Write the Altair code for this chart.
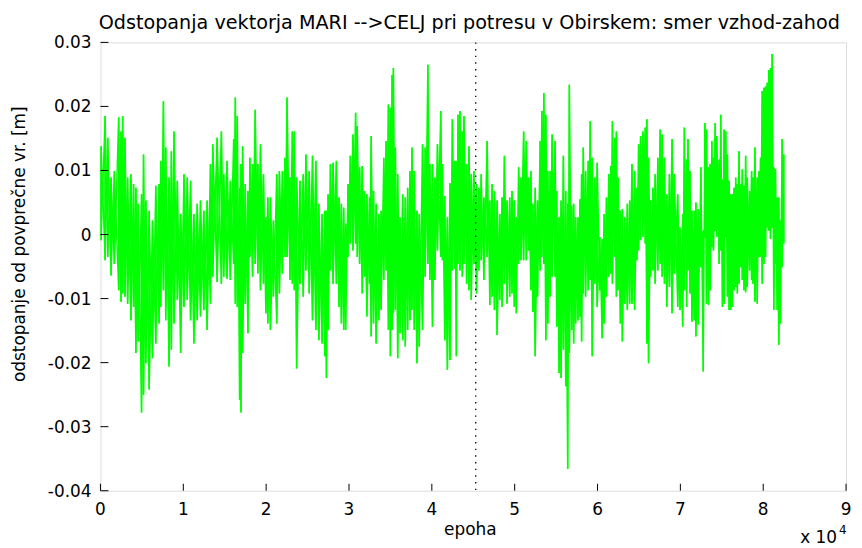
import altair as alt
import pandas as pd

# Epoch sample positions and the upper / lower extent of
# the green trace at each of them, in millimetres.
epoch = [
    80, 560, 880, 1280, 1680, 2200, 2480, 2680, 2960, 3280, 3680, 4000, 4280, 4560,
    4960, 5200, 5480, 5880, 6280, 6680, 7080, 7280, 7600, 7880, 8280, 8560, 8880,
    9280, 9680, 10080, 10480, 10880, 11280, 11680, 12080, 12480, 12880, 13280,
    13560, 14080, 14600, 14880, 15280, 15680, 16080, 16280, 16520, 16800, 16960,
    17160, 17480, 17800, 18040, 18360, 18680, 19000, 19320, 19680, 19960, 20200,
    20520, 20880, 21280, 21600, 21960, 22280, 22520, 22880, 23160, 23400, 23680,
    24080, 24480, 24800, 25200, 25600, 26000, 26360, 26760, 27080, 27280,
    27480, 27760, 28080, 28480, 28800, 29080, 29360, 29600, 29880, 30160, 30480,
    30800, 31000, 31280, 31600, 31880, 32160, 32480, 32680, 32960, 33280, 33600,
    33880, 34200, 34480, 34760, 35000, 35200, 35360, 35600, 35880, 36160, 36480,
    36800, 37080, 37360, 37600, 37880, 38200, 38480, 38880, 39200, 39520, 39760,
    40080, 40360, 40680, 41080,
    41280, 41560, 41880, 42200, 42480, 42760, 42960, 43160, 43400, 43680, 43880,
    44200, 44480, 44760, 45080, 45400, 45680, 45960, 46280, 46680, 47000, 47280,
    47560, 47880, 48200, 48480, 48760, 49080, 49400, 49680, 49960, 50200, 50480,
    50760, 51080, 51400, 51680, 51960, 52200, 52480, 52760, 53080, 53280, 53520,
    53760, 54000, 54280, 54520, 54880,
    55080, 55360, 55600, 55880, 56160, 56400, 56600, 56880, 57120, 57360, 57640,
    57880, 58080, 58280, 58560, 58880, 59120, 59360, 59680, 59960, 60280, 60560,
    60800, 61080, 61360, 61600, 61800, 62080, 62280, 62480, 62760, 63000, 63280,
    63600, 63880, 64160, 64480, 64760, 64960, 65200, 65480, 65760, 65960, 66160,
    66400, 66680, 66960, 67280, 67560, 67800, 68080, 68360, 68680,
    69000, 69280, 69680, 69960, 70280, 70480, 70760, 70920, 71160, 71400, 71680,
    71880, 72160, 72480, 72760, 72960, 73160, 73400, 73600, 73800, 74000, 74200,
    74400, 74680, 74880, 75080, 75280, 75480, 75680, 75880, 76080, 76280, 76480,
    76680, 76880, 77080, 77280, 77480, 77680, 77880, 78080, 78360, 78600, 78760,
    79000, 79280, 79480, 79680, 79880, 80080, 80280, 80480, 80680, 80880, 81080,
    81280, 81480, 81680, 81880, 82080, 82280, 82480,
]

upper_mm = [
    13.8, 18.5, 15.1, 8.9, 9.9, 18.3, 16.1, 18.5, 15.1, 8.9, 9.4, 7.9, 7.3, 4.8,
    6.3, 12.5, 5.3, 3.7, 2.2, 7.6, 7.9, 11.5, 20.8, 13.6, 8.9, 13.0, 16.1,
    8.4, 3.2, 9.4, 8.9, 8.4, 3.2, 4.8, 5.3, 3.7, 5.3, 11.0,
    14.1, 15.1, 16.1, 9.4, 11.5, 8.4, 14.9, 21.4, 18.5, 7.3, 11.0,
    13.8, 7.9, 6.8, 12.0, 11.0, 19.5, 11.0, 14.1, 9.4, 2.7, 5.8,
    5.8, 2.2, 9.4, 9.9, 9.9, 12.0, 21.4, 8.9, 16.1, 16.1, 8.9,
    8.4, 9.4, 12.5, 9.9, 12.3, 11.5, 4.8, 3.2, 3.7, 3.7,
    6.3, 11.0, 11.2, 11.5, 5.8, 4.8, 4.2, 1.7, 7.9, 12.3, 15.6,
    19.0, 16.9, 10.5, 10.7, 6.8, 6.3, 5.8, 15.4, 6.8, 4.8, 3.2,
    3.7, 12.0, 14.6, 20.3, 19.8, 24.9, 26.0, 13.6, 9.4, 2.7, 6.3,
    5.8, 7.3, 9.9, 13.6, 9.9, 3.7, 3.2, 14.1, 13.6, 26.5, 11.0,
    11.0, 8.9, 14.1, 19.3,
    11.0, 6.0, 2.7, 8.0, 18.0, 11.5, 11.5, 18.7, 19.3, 16.1, 18.5,
    11.0, 13.8, 9.4, 9.9, 7.9, 7.3, 9.4, 5.8, 14.6, 5.3, 7.9,
    6.8, 5.3, 3.2, 5.8, 12.3, 5.3, 5.8, 6.8, 5.3, 2.7, 10.5,
    8.9, 16.1, 14.6, 8.9, 9.9, 4.8, 7.3, 5.3, 14.6, 19.3, 22.1,
    18.7, 9.9, 9.9, 15.6, 14.6,
    6.8, 2.7, 5.3, 12.3, 6.8, 4.8, 23.4, 4.5, 4.8, 2.7, 2.7,
    5.5, 9.4, 13.6, 9.9, 11.5, 17.7, 12.0, 8.9, 11.2, -0.4, -0.7,
    3.2, 5.8, 9.4, 10.7, 17.7, 15.1, 16.1, 8.9, 3.7, 4.0, 2.7,
    4.8, 5.3, 11.0, 9.9, 7.3, 14.1, 15.4, 16.1, 16.7, 18.0, 12.0,
    5.3, 7.3, 9.4, 12.0, 16.4, 15.6, 12.0, 6.3, 9.4,
    14.9, 9.4, 6.3, 1.1, 3.2, 16.7, 11.7, 14.9, 9.9, 3.7, 3.7,
    5.0, 4.0, 10.5, 0.6, 17.4, 16.4, 10.5, 11.0, 14.6, 12.0, 17.4,
    15.4, 11.7, 18.7, 8.6, 16.4, 16.1, 12.5, 8.4, 6.3, 6.3, 7.3,
    8.9, 7.9, 13.0, 7.9, 10.2, 7.6, 12.3, 8.9, 6.8, 9.9, 8.9,
    13.6, 8.9, 9.9, 12.0, 22.4, 22.9, 23.1, 23.7, 25.7, 26.0, 28.2,
    10.5, 10.2, 5.8, 5.8, 2.2, 14.9, 12.5,
]

lower_mm = [
    -0.9, -4.0, -3.5, -6.4, -4.6, -8.7, -10.5, -9.2, -9.7, -10.8, -13.4, -11.3, -18.5, -16.7,
    -27.8, -25.0, -20.1, -24.2, -19.3, -17.0, -13.9, -11.3, -8.7, -13.4, -20.6, -18.0, -13.9,
    -10.2, -18.5, -11.3, -10.2, -13.4, -17.0, -13.4, -12.8, -11.8, -14.9, -10.8,
    -6.6, -7.4, -7.7, -6.6, -6.9, -7.1, -4.6, -10.8, -11.3, -25.8, -27.8,
    -18.5, -10.8, -15.4, -3.5, -6.6, -4.6, -6.1, -8.7, -7.7, -12.3, -13.9,
    -14.9, -9.7, -13.9, -9.2, -6.1, -3.5, -3.5, -7.1, -7.7, -8.7, -20.9,
    -7.7, -9.7, -5.6, -9.2, -13.4, -14.9, -16.5, -17.0, -19.0, -22.4,
    -14.9, -5.6, -7.7, -7.7, -11.3, -13.9, -14.9, -14.9, -3.5, -1.4, -2.5,
    -1.4, -3.5, -4.6, -9.2, -6.6, -12.8, -7.7, -15.9, -13.9, -17.0, -13.4,
    -11.8, -7.1, -5.6, -14.9, -19.0, -14.9, -12.3, -11.8, -19.3, -15.4, -16.5,
    -17.5, -14.9, -13.4, -11.8, -14.9, -20.1, -17.5, -14.9, -6.6, -4.6, -7.1,
    -14.4, -7.1, -2.5, -3.5,
    -4.0, -16.5, -21.1, -19.6, -5.6, -5.3, -19.0, -4.6, -5.6, -6.6, -4.6,
    -7.7, -8.7, -10.2, -4.6, -9.2, -5.6, -4.0, -7.1, -3.5, -11.0, -9.7,
    -11.8, -15.7, -10.2, -11.3, -7.7, -10.8, -9.7, -9.2, -11.3, -12.3, -4.6,
    -4.0, -4.0, -4.0, -2.5, -8.7, -12.1, -19.0, -9.7, -5.6, -3.5, -4.6,
    -16.5, -13.9, -9.7, -6.6, -6.6,
    -14.4, -21.6, -22.4, -18.0, -23.7, -36.6, -18.5, -14.9, -17.0, -13.9, -13.4,
    -12.8, -16.7, -9.2, -9.7, -8.7, -7.1, -19.0, -7.7, -11.3, -8.7, -16.2,
    -13.9, -9.7, -6.6, -6.1, -7.7, -3.5, -9.7, -8.7, -13.9, -16.7, -10.8,
    -11.8, -10.8, -10.8, -11.8, -4.0, -2.5, -0.9, -0.4, -1.4, -17.0, -20.1,
    -6.6, -5.6, -7.7, -5.6, -4.6, -6.6, -7.7, -11.3, -8.2,
    -12.3, -6.1, -11.3, -11.8, -14.4, -8.7, -11.3, -5.6, -9.2, -13.6, -13.4,
    -15.9, -14.1, -5.1, -21.4, -0.4, -10.8, -11.0, -8.7, -2.0, -2.5, 0.6,
    -0.4, -4.6, -2.5, -11.3, -10.8, -0.4, -9.7, -11.8, -11.8, -11.3, -8.7,
    -8.2, -9.2, -7.7, -5.1, -7.1, -8.7, -9.0, -8.2, -5.6, -7.1, -7.7,
    -10.5, -10.8, -3.5, -3.5, -7.7, -4.6, -3.5, 1.1, 0.6, -0.7, 1.1,
    -11.8, -4.6, -11.8, -17.2, -13.9, -5.1, -1.4,
]

x_tick_values = [0, 10000, 20000, 30000, 40000, 50000, 60000, 70000, 80000, 90000]
y_tick_values = [-0.04, -0.03, -0.02, -0.01, 0, 0.01, 0.02, 0.03]
event_epoch = [45300]

title_text = "Odstopanja vektorja MARI -->CELJ pri potresu v Obirskem: smer vzhod-zahod"
x_title = "epoha"
y_title = "odstopanje od povprečne vr. [m]"

FONT = "DejaVu Sans"
W, H = 750, 451

# Trace: two zig-zags through the upper / lower extent of every sample so the
# dense core of the signal is filled, while single spikes stay thin.
rows = []
k = 0
for e, u, lo in zip(epoch, upper_mm, lower_mm):
    rows.append({"epoha": e, "v": u / 1000.0, "o": k, "s": "a"})
    rows.append({"epoha": e, "v": lo / 1000.0, "o": k + 1, "s": "a"})
    rows.append({"epoha": e, "v": lo / 1000.0, "o": k, "s": "b"})
    rows.append({"epoha": e, "v": u / 1000.0, "o": k + 1, "s": "b"})
    k += 2
trace_df = pd.DataFrame(rows)

x_lab_df = pd.DataFrame({
    "epoha": x_tick_values,
    "lab": [str(v // 10000) for v in x_tick_values],
})
y_lab_df = pd.DataFrame({
    "v": y_tick_values,
    "lab": ["0" if v == 0 else f"{v:.2f}" for v in y_tick_values],
})

x_scale = alt.Scale(domain=[0, 90000], nice=False, zero=False)
y_scale = alt.Scale(domain=[-0.04, 0.03], nice=False, zero=False)

x_axis = alt.Axis(labels=False, ticks=False, grid=False, title=None,
                  domainColor="black", domainWidth=1)
y_axis = alt.Axis(labels=False, ticks=False, grid=False, title=None,
                  domainColor="black", domainWidth=1)

trace = alt.Chart(trace_df).mark_line(color="#00ff00", strokeWidth=1.45).encode(
    x=alt.X("epoha:Q", scale=x_scale, axis=x_axis),
    y=alt.Y("v:Q", scale=y_scale, axis=y_axis),
    detail="s:N",
    order=alt.Order("o:Q"),
)

event = alt.Chart(pd.DataFrame({"epoha": event_epoch})).mark_rule(
    color="black", strokeWidth=1.3, strokeDash=[1.4, 5.3]
).encode(x=alt.X("epoha:Q", scale=x_scale, axis=None))

x_ticks = alt.Chart(pd.DataFrame({"epoha": x_tick_values})).mark_rule(
    color="black", strokeWidth=1
).encode(
    x=alt.X("epoha:Q", scale=x_scale, axis=None),
    y=alt.value(H),
    y2=alt.value(H - 7),
)

y_ticks = alt.Chart(pd.DataFrame({"v": y_tick_values})).mark_rule(
    color="black", strokeWidth=1
).encode(
    y=alt.Y("v:Q", scale=y_scale, axis=None),
    x=alt.value(0),
    x2=alt.value(8),
)

x_labels = alt.Chart(x_lab_df).mark_text(
    font=FONT, fontSize=17, color="black", align="center", baseline="alphabetic"
).encode(
    x=alt.X("epoha:Q", scale=x_scale, axis=None),
    y=alt.value(H + 24),
    text="lab:N",
)

y_labels = alt.Chart(y_lab_df).mark_text(
    font=FONT, fontSize=17, color="black", align="right", baseline="alphabetic", dy=6
).encode(
    y=alt.Y("v:Q", scale=y_scale, axis=None),
    x=alt.value(-9),
    text="lab:N",
)

one = pd.DataFrame({"a": [0]})
title_mark = alt.Chart(one).mark_text(
    text=title_text, font=FONT, fontSize=19.3, color="black",
    align="center", baseline="alphabetic",
).encode(x=alt.value(371), y=alt.value(-13))

x_title_mark = alt.Chart(one).mark_text(
    text=x_title, font=FONT, fontSize=17, color="black",
    align="center", baseline="alphabetic",
).encode(x=alt.value(W / 2 - 3), y=alt.value(H + 45))

y_title_mark = alt.Chart(one).mark_text(
    text=y_title, font=FONT, fontSize=17, color="black",
    align="center", baseline="middle", angle=270,
).encode(x=alt.value(-81), y=alt.value(203))

x10_mark = alt.Chart(one).mark_text(
    text="x 10", font=FONT, fontSize=17, color="black",
    align="right", baseline="alphabetic",
).encode(x=alt.value(741), y=alt.value(504))

sup_mark = alt.Chart(one).mark_text(
    text="4", font=FONT, fontSize=12, color="black",
    align="left", baseline="alphabetic",
).encode(x=alt.value(743), y=alt.value(495))

chart = alt.layer(
    trace, event, x_ticks, y_ticks, x_labels, y_labels,
    title_mark, x_title_mark, y_title_mark, x10_mark, sup_mark,
).properties(
    width=W,
    height=H,
    autosize=alt.AutoSizeParams(type="none"),
    padding={"left": 93, "top": 33, "right": 8, "bottom": 54},
).configure_view(stroke=None).configure(background="white")

chart.save("out.html", embed_options={"renderer": "svg", "actions": False})
